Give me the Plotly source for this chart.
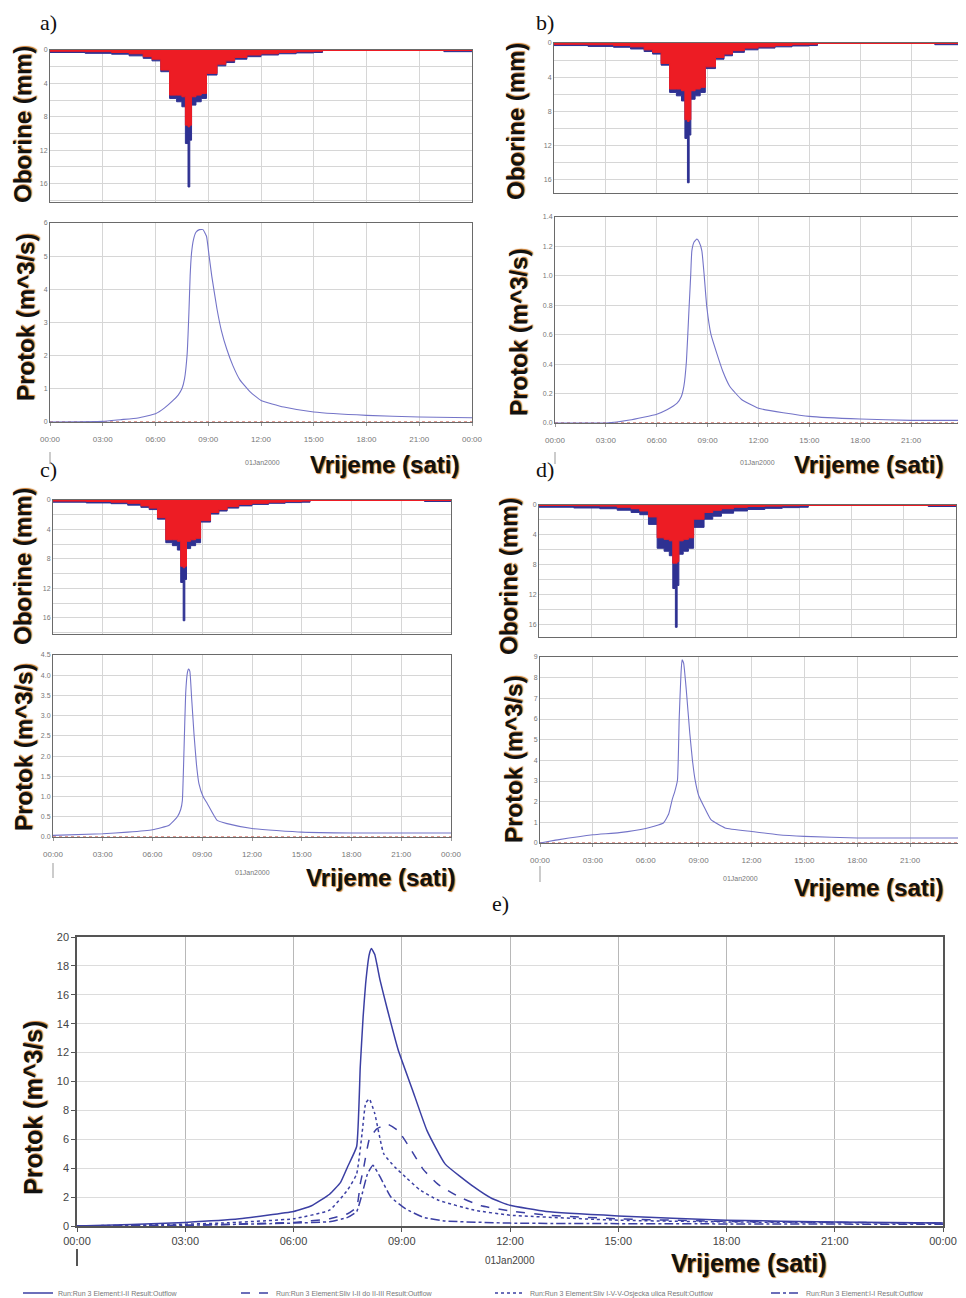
import plotly.graph_objects as go

# page offset (browser body margin) compensation
OFF = 8
W, H = 966 - OFF, 1298 - OFF

# ---------------- DATA ----------------
hour_ticks = [0, 3, 6, 9, 12, 15, 18, 21, 24]
hour_labels = ["00:00", "03:00", "06:00", "09:00", "12:00", "15:00", "18:00", "21:00", "00:00"]

# hyetograph (step start times in hours)
rain_t = [0, 2, 3.5, 4.5, 5.3, 5.8, 6.3, 6.8, 7.2, 7.5, 7.7, 7.85, 7.95, 8.05, 8.3, 8.6, 8.9,
          9.5, 10.0, 10.5, 11.2, 12.0, 13.0, 14.0, 15.0, 15.5, 22.4, 24.0]
rain_total = [0.3, 0.4, 0.5, 0.7, 1.0, 1.3, 2.6, 5.8, 6.2, 6.8, 11.2, 16.4, 10.8, 6.6, 6.2, 5.8, 3.0,
              1.9, 1.5, 1.1, 0.8, 0.6, 0.45, 0.35, 0.3, 0.0, 0.2, 0.2]
rain_excess_abc = [0.15, 0.2, 0.3, 0.45, 0.8, 1.1, 2.4, 5.4, 5.4, 5.6, 9.0, 9.2, 9.0, 5.6, 5.4, 5.2, 2.8,
                   1.7, 1.3, 0.9, 0.6, 0.45, 0.3, 0.2, 0.15, 0.0, 0.0, 0.0]
rain_excess_d = [0.05, 0.1, 0.15, 0.3, 0.5, 0.8, 1.6, 4.4, 4.6, 4.8, 7.8, 7.8, 7.6, 4.8, 4.6, 4.4, 1.9,
                 1.0, 0.7, 0.5, 0.3, 0.2, 0.15, 0.1, 0.05, 0.0, 0.0, 0.0]

# panel a hydrograph
qa_t = [0, 3, 4, 5, 6, 6.5, 7, 7.3, 7.5, 7.65, 7.8, 7.9, 7.97, 8.05, 8.16, 8.3, 8.5, 8.7, 8.9, 9.05,
        9.2, 9.5, 9.75, 10.05, 10.4, 10.8, 11.4, 12, 13.3, 15, 18, 21, 24]
qa_v = [0.0, 0.02, 0.07, 0.12, 0.25, 0.42, 0.65, 0.82, 1.0, 1.3, 2.05, 3.3, 4.4, 5.1, 5.5, 5.72, 5.8,
        5.8, 5.6, 5.0, 4.4, 3.4, 2.75, 2.2, 1.7, 1.27, 0.9, 0.65, 0.45, 0.3, 0.2, 0.15, 0.13]
# panel b hydrograph
qb_t = [0, 3, 4.4, 6, 6.6, 7.2, 7.45, 7.6, 7.75, 7.9, 8.0, 8.07, 8.2, 8.37, 8.5, 8.66, 8.8, 8.95,
        9.2, 9.55, 9.9, 10.3, 11, 12, 15, 18, 21, 24]
qb_v = [0.0, 0.0, 0.02, 0.06, 0.09, 0.135, 0.18, 0.25, 0.42, 0.77, 1.0, 1.17, 1.23, 1.25, 1.23, 1.17,
        1.0, 0.79, 0.6, 0.47, 0.35, 0.25, 0.16, 0.1, 0.045, 0.027, 0.018, 0.018]
# panel c hydrograph
qc_t = [0, 3, 4.5, 6, 7, 7.5, 7.7, 7.8, 7.9, 8.0, 8.1, 8.17, 8.25, 8.35, 8.5, 8.65, 8.8, 9.05, 9.3,
        9.9, 10.5, 12, 15, 18, 24]
qc_v = [0.04, 0.08, 0.12, 0.18, 0.29, 0.5, 0.68, 0.9, 2.15, 3.55, 4.05, 4.15, 4.1, 3.5, 2.56, 1.8,
        1.32, 1.0, 0.83, 0.41, 0.33, 0.21, 0.12, 0.1, 0.1]
# panel d hydrograph
qd_t = [0, 1, 3, 4.5, 6, 7, 7.3, 7.5, 7.65, 7.8, 7.9, 8.0, 8.06, 8.15, 8.3, 8.5, 8.65, 8.8, 9.0,
        9.3, 9.7, 10.5, 12, 13.5, 15, 18, 24]
qd_v = [0.0, 0.15, 0.4, 0.5, 0.7, 0.97, 1.4, 2.1, 2.5, 3.05, 6.1, 8.2, 8.87, 8.7, 7.4, 5.3, 4.0, 3.05,
        2.3, 1.77, 1.13, 0.73, 0.56, 0.4, 0.32, 0.24, 0.24]
zero_t = [0, 24]
zero_v = [0.0, 0.0]

# panel e hydrographs
e1_t = [0, 1.5, 3, 4.5, 6, 6.5, 7, 7.3, 7.5, 7.75, 7.85, 7.93, 8.0, 8.1, 8.16, 8.25, 8.4, 8.6, 8.9,
        9.3, 9.7, 10.2, 11, 11.5, 12, 13, 15, 18, 21, 24]
e1_v = [0.0, 0.1, 0.25, 0.5, 1.0, 1.4, 2.2, 3.0, 4.1, 5.5, 11.0, 14.5, 16.8, 18.8, 19.2, 18.8, 17.0,
        15.0, 12.2, 9.4, 6.6, 4.3, 2.7, 1.9, 1.43, 1.0, 0.7, 0.4, 0.28, 0.2]
e2_t = [0, 3, 4, 6, 7, 7.5, 7.75, 7.85, 7.95, 8.1, 8.3, 8.6, 8.9, 9.2, 9.6, 10, 10.6, 11.2, 12, 13,
        15, 18, 24]
e2_v = [0.0, 0.05, 0.1, 0.25, 0.5, 0.85, 1.3, 2.9, 4.1, 6.0, 6.7, 7.05, 6.6, 5.5, 3.9, 2.9, 2.0, 1.4,
        1.05, 0.75, 0.5, 0.32, 0.2]
e3_t = [0, 2.5, 4, 6, 7, 7.5, 7.75, 7.9, 8.0, 8.1, 8.25, 8.5, 8.8, 9.1, 9.5, 10, 11, 12, 15, 18, 24]
e3_v = [0.0, 0.1, 0.2, 0.5, 1.1, 2.5, 3.6, 6.4, 8.5, 8.8, 7.8, 5.0, 4.1, 3.4, 2.5, 1.8, 1.1, 0.75,
        0.4, 0.28, 0.2]
e4_t = [0, 3, 6, 7, 7.5, 7.75, 7.9, 8.05, 8.2, 8.4, 8.7, 9.1, 9.6, 10.2, 12, 24]
e4_v = [0.0, 0.05, 0.2, 0.3, 0.6, 1.0, 2.2, 3.6, 4.2, 3.4, 2.0, 1.2, 0.6, 0.35, 0.2, 0.12]
e_names = ["Run:Run 3 Element:I-II Result:Outflow",
           "Run:Run 3 Element:Sliv I-II do II-III Result:Outflow",
           "Run:Run 3 Element:Sliv I-V-V-Osjecka ulica Result:Outflow",
           "Run:Run 3 Element:I-I Result:Outflow"]

# ---------------- LAYOUT HELPERS ----------------
def fx(x):
    return (x - OFF) / W

def fy(y):
    return 1 - (y - OFF) / H

def xd(l, r):
    return [fx(l), min(fx(r), 1.0)]

def yd(t, b):
    return [fy(b), fy(t)]

RED = "#ed1c24"
BLUE = "#2e3192"
QLINE = "#7474c8"
ELINE = "#3b3fa3"
GRID = "#d6d6d6"
FRAME = "#6a6a6a"

fig = go.Figure()
layout = {}
annotations = []
shapes = []

panels = [
    ("a", (50, 472, 50, 202), (50, 472, 223, 422), rain_excess_abc, qa_t, qa_v, 18.2,
     [0, 6], [0, 1, 2, 3, 4, 5, 6], ["0", "1", "2", "3", "4", "5", "6"]),
    ("b", (554, 962, 43, 193), (555, 962, 217, 423), rain_excess_abc, qb_t, qb_v, 17.6,
     [0, 1.4], [0, 0.2, 0.4, 0.6, 0.8, 1.0, 1.2, 1.4],
     ["0.0", "0.2", "0.4", "0.6", "0.8", "1.0", "1.2", "1.4"]),
    ("c", (53, 451, 500, 634), (53, 451, 655, 837), rain_excess_abc, qc_t, qc_v, 18.2,
     [0, 4.5], [0, 0.5, 1, 1.5, 2, 2.5, 3, 3.5, 4, 4.5],
     ["0.0", "0.5", "1.0", "1.5", "2.0", "2.5", "3.0", "3.5", "4.0", "4.5"]),
    ("d", (539, 956, 505, 637), (540, 963, 657, 843), rain_excess_d, qd_t, qd_v, 17.7,
     [0, 9], list(range(10)), [str(i) for i in range(10)]),
]

precip_ticks = [0, 2, 4, 6, 8, 10, 12, 14, 16, 18]
precip_text = ["0", "", "4", "", "8", "", "12", "", "16", ""]

ax = 1
for (name, pbox, qbox, excess, qt, qv, pmax, qrange, qticks, qtext) in panels:
    xa, ya = f"xaxis{ax}", f"yaxis{ax}"
    xr, yr = f"x{ax}", f"y{ax}"
    layout[xa] = dict(domain=xd(pbox[0], pbox[1]), anchor=yr, range=[0, 24], automargin=False,
                      tickvals=hour_ticks, showticklabels=False, showgrid=True,
                      gridcolor=GRID, gridwidth=1, zeroline=False, showline=True,
                      linecolor=FRAME, linewidth=1, mirror=True, ticks="")
    layout[ya] = dict(domain=yd(pbox[2], pbox[3]), anchor=xr, range=[pmax, 0], automargin=False,
                      tickvals=precip_ticks, ticktext=precip_text, showgrid=True,
                      gridcolor=GRID, zeroline=False, showline=True, linecolor=FRAME,
                      linewidth=1, mirror=True, ticks="",
                      tickfont=dict(size=7, color="#777", family="Liberation Sans"))
    fig.add_trace(go.Scatter(x=rain_t, y=rain_total, xaxis=xr, yaxis=yr, mode="lines",
                             line=dict(shape="hv", color=BLUE, width=1), fill="tozeroy",
                             fillcolor=BLUE, showlegend=False, hoverinfo="skip"))
    fig.add_trace(go.Scatter(x=rain_t, y=excess, xaxis=xr, yaxis=yr, mode="lines",
                             line=dict(shape="hv", color=RED, width=1), fill="tozeroy",
                             fillcolor=RED, showlegend=False, hoverinfo="skip"))
    fig.add_trace(go.Scatter(x=zero_t, y=zero_v, xaxis=xr, yaxis=yr, mode="lines",
                             line=dict(color=RED, width=2), showlegend=False, hoverinfo="skip"))
    ax += 1
    xa, ya = f"xaxis{ax}", f"yaxis{ax}"
    xr, yr = f"x{ax}", f"y{ax}"
    layout[xa] = dict(domain=xd(qbox[0], qbox[1]), anchor=yr, range=[0, 24], automargin=False,
                      tickvals=hour_ticks, ticktext=hour_labels, showgrid=True,
                      gridcolor=GRID, zeroline=False, showline=True, linecolor=FRAME,
                      linewidth=1, mirror=True, ticks="outside", ticklen=3,
                      tickcolor="#999", ticklabelstandoff=6,
                      tickfont=dict(size=8, color="#777", family="Liberation Sans Narrow, Liberation Sans"))
    layout[ya] = dict(domain=yd(qbox[2], qbox[3]), anchor=xr, range=qrange, automargin=False,
                      tickvals=qticks, ticktext=qtext, showgrid=True, gridcolor=GRID,
                      zeroline=False, showline=True, linecolor=FRAME, linewidth=1,
                      mirror=True, ticks="",
                      tickfont=dict(size=7, color="#777", family="Liberation Sans"))
    fig.add_trace(go.Scatter(x=zero_t, y=zero_v, xaxis=xr, yaxis=yr, mode="lines",
                             line=dict(color="#c0392b", width=1, dash="dot"),
                             showlegend=False, hoverinfo="skip"))
    fig.add_trace(go.Scatter(x=qt, y=qv, xaxis=xr, yaxis=yr, mode="lines",
                             line=dict(color=QLINE, width=1.1, shape="spline", smoothing=0.4),
                             showlegend=False, hoverinfo="skip"))
    ax += 1

# panel e
E = (77, 943, 937, 1226)
xa, ya = f"xaxis{ax}", f"yaxis{ax}"
xr, yr = f"x{ax}", f"y{ax}"
layout[xa] = dict(domain=xd(E[0], E[1]), anchor=yr, range=[0, 24], tickvals=hour_ticks,
                  automargin=False,
                  ticktext=hour_labels, showgrid=True, gridcolor="#b8b8b8", zeroline=False,
                  showline=True, linecolor="#555", linewidth=1.5, mirror=True,
                  ticks="outside", ticklen=4, tickcolor="#555",
                  tickfont=dict(size=11, color="#444", family="Liberation Sans"))
layout[ya] = dict(domain=yd(E[2], E[3]), anchor=xr, range=[0, 20], dtick=2, showgrid=True,
                  automargin=False,
                  gridcolor="#dcdcdc", zeroline=False, showline=True, linecolor="#555",
                  linewidth=1.5, mirror=True, ticks="outside", ticklen=4, tickcolor="#555",
                  tickfont=dict(size=11, color="#444", family="Liberation Sans"))
legend_ids = ["legend", "legend2", "legend3", "legend4"]
legend_x = [18, 236, 490, 766]
for i, (t, v, nm, dash) in enumerate([(e1_t, e1_v, e_names[0], "solid"),
                                      (e2_t, e2_v, e_names[1], "dash"),
                                      (e3_t, e3_v, e_names[2], "dot"),
                                      (e4_t, e4_v, e_names[3], "dashdot")]):
    fig.add_trace(go.Scatter(x=t, y=v, xaxis=xr, yaxis=yr, mode="lines", name=nm,
                             line=dict(color=ELINE, width=1.5, dash=dash, shape="spline",
                                       smoothing=0.4),
                             showlegend=True, legend=legend_ids[i], hoverinfo="skip"))
    layout[legend_ids[i]] = dict(x=fx(legend_x[i]), y=fy(1293), xanchor="left",
                                 yanchor="middle", orientation="h", itemwidth=30,
                                 font=dict(size=7, color="#777", family="Liberation Sans"),
                                 bgcolor="rgba(0,0,0,0)")

# ---------------- TEXT ----------------
TF = dict(family="Liberation Sans", size=24, color="#111111")
SH = "1px 1px 1px #c8782a"

def ann(x, y, text, font, angle=0, xanchor="center"):
    annotations.append(dict(x=fx(x), y=fy(y), xref="paper", yref="paper", text=text,
                            showarrow=False, textangle=angle, font=font, xanchor=xanchor,
                            yanchor="middle"))

bold = dict(TF, weight="bold", shadow=SH)
for (lx, ly, t) in [(22, 125, "Oborine (mm)"), (25, 318, "Protok (m^3/s)"),
                    (516, 122, "Oborine (mm)"), (518, 332, "Protok (m^3/s)"),
                    (22, 567, "Oborine (mm)"), (23, 748, "Protok (m^3/s)"),
                    (508, 577, "Oborine (mm)"), (513, 760, "Protok (m^3/s)")]:
    ann(lx, ly, t, bold, angle=-90)
ann(33, 1108, "Protok (m^3/s)", dict(bold, size=25), angle=-90)

for (vx, vy) in [(384, 465), (868, 465), (380, 877), (868, 887)]:
    ann(vx, vy, "Vrijeme (sati)", bold)
ann(749, 1263, "Vrijeme (sati)", dict(bold, size=25))

small = dict(family="Liberation Sans Narrow, Liberation Sans", size=7, color="#777")
for (dx, dy) in [(262, 463), (757, 463), (252, 872), (740, 878)]:
    ann(dx, dy, "01Jan2000", small)
ann(510, 1260, "01Jan2000", dict(family="Liberation Sans", size=10, color="#444"))

serif = dict(family="Liberation Serif", size=22, color="#111")
for (px_, py_, t) in [(48, 22, "a)"), (545, 22, "b)"), (48, 470, "c)"), (545, 470, "d)"),
                      (500, 903, "e)")]:
    ann(px_, py_, t, serif)

for (mx, y0, y1, w, c) in [(50, 452, 464, 1, "#999"), (555, 452, 464, 1, "#999"),
                           (53, 863, 878, 1, "#999"), (540, 866, 882, 1, "#999"),
                           (77, 1249, 1266, 2, "#555")]:
    shapes.append(dict(type="line", xref="paper", yref="paper", x0=fx(mx), x1=fx(mx),
                       y0=fy(y0), y1=fy(y1), line=dict(color=c, width=w)))

fig.update_layout(
    width=W, height=H, margin=dict(l=0, r=0, t=0, b=0, autoexpand=False),
    paper_bgcolor="white", plot_bgcolor="white",
    annotations=annotations, shapes=shapes,
    showlegend=True,
    **layout,
)

fig.write_html("out.html")
